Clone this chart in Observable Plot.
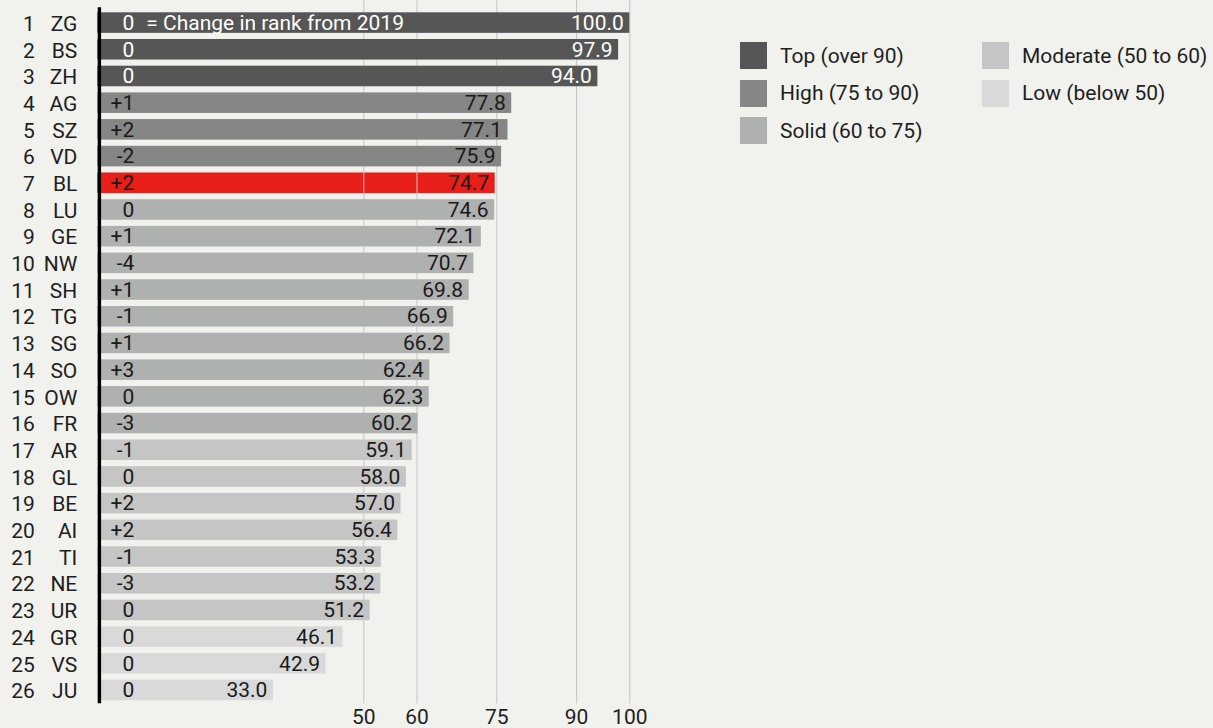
<!DOCTYPE html>
<html><head><meta charset="utf-8">
<script src="https://cdn.jsdelivr.net/npm/d3@7"></script>
<script src="https://cdn.jsdelivr.net/npm/@observablehq/plot@0.6"></script>
<style>
html,body{margin:0;padding:0;background:#f1f1ed;}
#wrap{position:relative;width:1213px;height:728px;overflow:hidden;font-family:Roboto,sans-serif;}
#chart{position:absolute;left:0;top:0;}
.leg{position:absolute;display:flex;align-items:center;height:27px;font-size:21px;color:#1e1e1e;white-space:nowrap;}
.leg .sw{width:27px;height:27px;margin-right:13px;flex:none;}
</style></head>
<body><div id="wrap"><div id="chart"></div><div id="legend"></div></div>
<script>
const ranks = [1,2,3,4,5,6,7,8,9,10,11,12,13,14,15,16,17,18,19,20,21,22,23,24,25,26];
const codes = ["ZG","BS","ZH","AG","SZ","VD","BL","LU","GE","NW","SH","TG","SG","SO","OW","FR","AR","GL","BE","AI","TI","NE","UR","GR","VS","JU"];
const scores = [100.0,97.9,94.0,77.8,77.1,75.9,74.7,74.6,72.1,70.7,69.8,66.9,66.2,62.4,62.3,60.2,59.1,58.0,57.0,56.4,53.3,53.2,51.2,46.1,42.9,33.0];
const changes = ["0","0","0","+1","+2","-2","+2","0","+1","-4","+1","-1","+1","+3","0","-3","-1","0","+2","+2","-1","-3","0","0","0","0"];
const groups = ["Top","Top","Top","High","High","High","Solid","Solid","Solid","Solid","Solid","Solid","Solid","Solid","Solid","Solid","Moderate","Moderate","Moderate","Moderate","Moderate","Moderate","Moderate","Low","Low","Low"];
const highlight = "BL";
const groupNames = ["Top","High","Solid","Moderate","Low"];
const groupLabels = ["Top (over 90)","High (75 to 90)","Solid (60 to 75)","Moderate (50 to 60)","Low (below 50)"];
const groupColors = ["#555655","#868686","#afb0b0","#c5c5c5","#d9d9d9"];
const highlightColor = "#e81f18";
const gridTicks = [50,60,75,90,100];
const changeNote = "= Change in rank from 2019";

const data = codes.map((c,i)=>({rank:ranks[i],code:c,score:scores[i],change:changes[i],group:groups[i]}));
const lightText = d => d.group==="Top" ? "#ffffff" : "#1a1a1a";

const chart = Plot.plot({
  width:1213, height:728,
  marginLeft:97.3, marginRight:583.7, marginTop:12.3, marginBottom:27.7,
  style:{background:"transparent", fontFamily:"Roboto, sans-serif", fontSize:"21px", color:"#1e1e1e"},
  x:{domain:[0,100], label:null},
  y:{domain:codes, paddingInner:0.23, paddingOuter:0, round:false, axis:null},
  color:{domain:groupNames, range:groupColors},
  marks:[
    Plot.barX(data.filter(d=>d.code===highlight), {x:"score", y:"code", fill:highlightColor}),
    Plot.ruleX(gridTicks, {stroke:"#c4c4c4", strokeWidth:1, insetTop:-13, insetBottom:-3}),
    Plot.barX(data.filter(d=>d.code!==highlight), {x:"score", y:"code", fill:"group"}),
    Plot.ruleX([0], {stroke:"#000", strokeWidth:3.4, dx:1.6, insetTop:-5, insetBottom:-3}),
    Plot.text(data, {x:()=>0, y:"code", text:d=>String(d.rank), textAnchor:"end", dx:-63, fill:"#1e1e1e", dy:1}),
    Plot.text(data, {x:()=>0, y:"code", text:"code", textAnchor:"end", dx:-20.5, fill:"#1e1e1e", dy:1}),
    Plot.text(data, {x:()=>0, y:"code", text:"change", textAnchor:"end", dx:36.5, fill:lightText}),
    Plot.text(data.slice(0,1), {x:()=>0, y:"code", text:()=>changeNote, textAnchor:"start", dx:48.5, fill:lightText}),
    Plot.text(data, {x:"score", y:"code", text:d=>d.score.toFixed(1), textAnchor:"end", dx:-6, fill:lightText}),
    Plot.axisX(gridTicks, {tickSize:0, tickPadding:8, fontSize:21, fill:"#1e1e1e", label:null})
  ]
});
document.getElementById("chart").appendChild(chart);

const leg = document.getElementById("legend");
groupNames.forEach((g,i)=>{
  const col = i < 3 ? 0 : 1;
  const row = i < 3 ? i : i - 3;
  const el = document.createElement("div");
  el.className = "leg";
  el.style.left = (col ? 982 : 740) + "px";
  el.style.top = (42 + row*37.5) + "px";
  const sw = document.createElement("div");
  sw.className = "sw"; sw.style.background = groupColors[i];
  const tx = document.createElement("span");
  tx.textContent = groupLabels[i];
  el.appendChild(sw); el.appendChild(tx);
  leg.appendChild(el);
});
</script>
</body></html>
